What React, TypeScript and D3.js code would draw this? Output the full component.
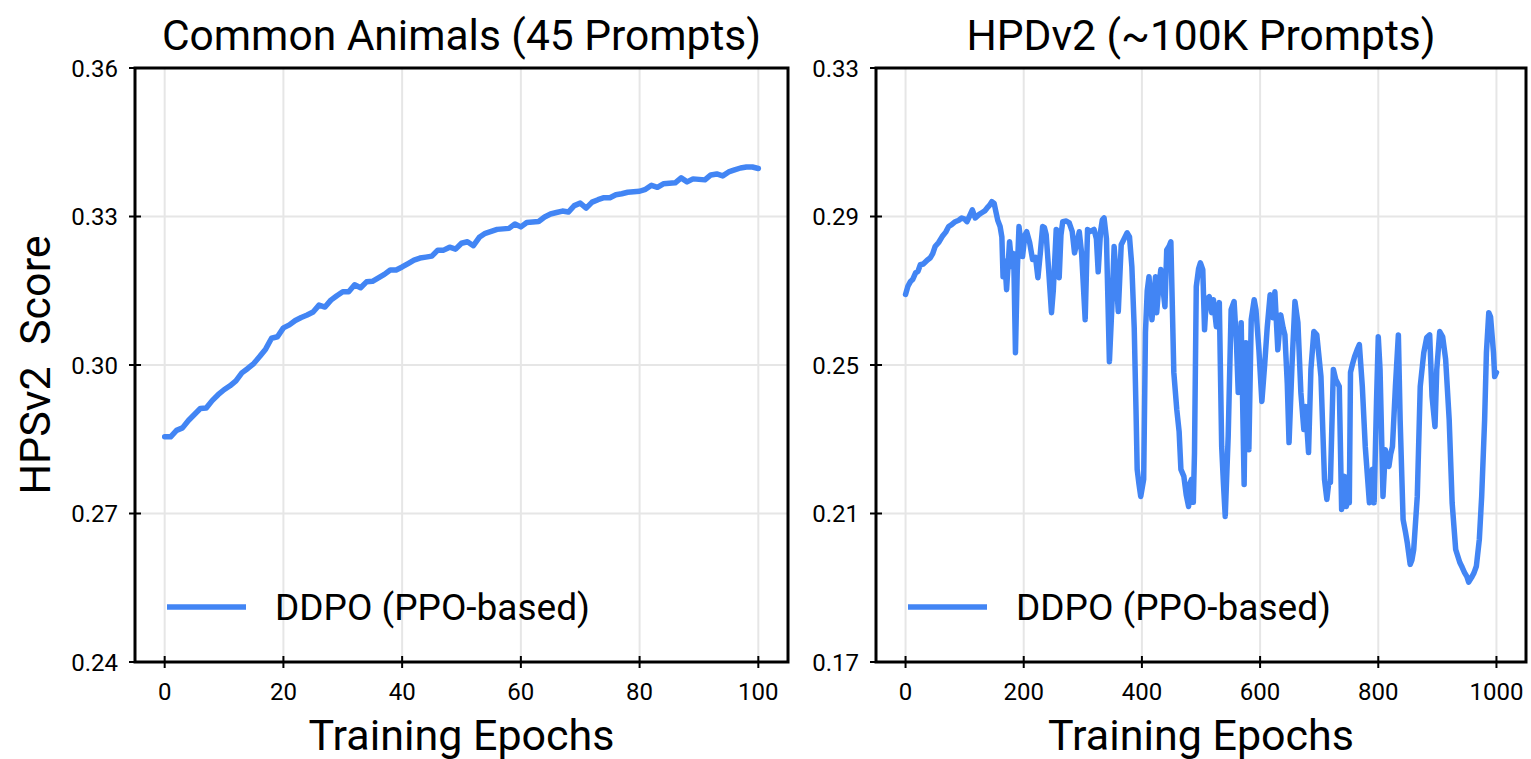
import React from 'react';
import * as d3 from 'd3';

// Common Animals (45 prompts), epochs 0..100
const animalScores = [
  0.2855, 0.2855, 0.2868, 0.2873, 0.2888, 0.29, 0.2912, 0.2913, 0.2928, 0.294,
  0.295, 0.2958, 0.2968, 0.2984, 0.2993, 0.3003, 0.3017, 0.3032, 0.3054, 0.3057,
  0.3075, 0.3081, 0.309, 0.3096, 0.3101, 0.3107, 0.3121, 0.3117, 0.3131, 0.314,
  0.3148, 0.3148, 0.3162, 0.3156, 0.3168, 0.3169, 0.3176, 0.3183, 0.3192, 0.3192,
  0.3198, 0.3205, 0.3212, 0.3216, 0.3218, 0.322, 0.3232, 0.3232, 0.3238, 0.3234,
  0.3246, 0.3249, 0.3241, 0.3258, 0.3266, 0.327, 0.3274, 0.3275, 0.3276, 0.3285,
  0.3279, 0.3288, 0.3289, 0.329, 0.3299, 0.3305, 0.3308, 0.3311, 0.3309, 0.3322,
  0.3327, 0.3317, 0.3329, 0.3334, 0.3338, 0.3338, 0.3344, 0.3346, 0.3349, 0.335,
  0.3351, 0.3355, 0.3363, 0.3359, 0.3366, 0.3367, 0.3368, 0.3378, 0.337, 0.3376,
  0.3375, 0.3374, 0.3384, 0.3386, 0.3382, 0.339, 0.3394, 0.3398, 0.34, 0.34,
  0.3397,
];
const animalEpochs = animalScores.map((_, i) => i);

// HPDv2 (~100K prompts)
const hpdEpochs = [
  0, 4, 8, 12, 17, 21, 25, 30, 37, 42, 46, 50, 56, 62, 68, 73, 78, 84, 90, 95,
  100, 104, 108, 113, 118, 124, 129, 134, 138, 142, 146, 150, 153, 156, 160, 163, 165, 168, 171, 176,
  180, 183, 186, 189, 192, 195, 198, 202, 205, 210, 215, 220, 224, 228, 232, 235, 238, 242, 247, 250,
  255, 258, 260, 263, 266, 272, 277, 282, 286, 290, 294, 298, 304, 308, 313, 319, 323, 326, 330, 333,
  336, 340, 345, 349, 353, 356, 360, 365, 370, 375, 379, 383, 387, 390, 392, 395, 398, 403, 406, 409,
  412, 417, 423, 425, 428, 432, 436, 439, 442, 446, 449, 454, 459, 463, 466, 471, 475, 479, 481, 484,
  487, 489, 492, 496, 499, 503, 506, 509, 514, 518, 521, 526, 531, 535, 538, 541, 546, 551, 556, 560,
  563, 568, 573, 576, 581, 585, 590, 593, 598, 603, 608, 612, 617, 622, 625, 630, 635, 639, 642, 646,
  649, 654, 659, 664, 669, 674, 677, 682, 686, 691, 696, 703, 709, 713, 716, 719, 724, 728, 734, 738,
  743, 746, 749, 751, 753, 756, 760, 764, 768, 773, 778, 785, 790, 793, 797, 800, 803, 808, 812, 815,
  818, 821, 824, 829, 834, 837, 842, 846, 849, 854, 857, 860, 866, 871, 877, 882, 887, 891, 896, 899,
  904, 909, 914, 920, 925, 931, 938, 942, 946, 950, 953, 958, 962, 966, 971, 975, 980, 983, 987, 990,
  995, 997, 1000,
];
const hpdScores = [
  0.269, 0.2712, 0.2724, 0.273, 0.2748, 0.2752, 0.277, 0.2772, 0.2783, 0.2789, 0.28, 0.2819, 0.283, 0.2846, 0.2858, 0.2873, 0.2878, 0.2886, 0.289, 0.2896,
  0.2893, 0.2886, 0.29, 0.2918, 0.2896, 0.2905, 0.291, 0.2915, 0.2923, 0.293, 0.294, 0.2935, 0.2912, 0.289, 0.2873, 0.2845, 0.2738, 0.278, 0.2703, 0.2832,
  0.2765, 0.28, 0.2533, 0.275, 0.2873, 0.283, 0.2792, 0.285, 0.2859, 0.283, 0.2784, 0.279, 0.2735, 0.28, 0.2873, 0.287, 0.2851, 0.276, 0.2641, 0.27,
  0.2865, 0.286, 0.2735, 0.285, 0.2886, 0.2888, 0.2883, 0.286, 0.2802, 0.283, 0.2859, 0.28, 0.2622, 0.2865, 0.286, 0.2865, 0.284, 0.2751, 0.286, 0.2891,
  0.2896, 0.284, 0.2509, 0.265, 0.2819, 0.275, 0.2644, 0.2824, 0.284, 0.2856, 0.2845, 0.2765, 0.26, 0.238, 0.2219, 0.218, 0.2146, 0.2192, 0.2587, 0.27,
  0.2738, 0.2622, 0.2738, 0.2641, 0.27, 0.2757, 0.27, 0.2657, 0.281, 0.282, 0.2832, 0.248, 0.238, 0.232, 0.2219, 0.22, 0.215, 0.2119, 0.218, 0.2192,
  0.213, 0.2264, 0.2711, 0.276, 0.2775, 0.2757, 0.2595, 0.2676, 0.2684, 0.2641, 0.2676, 0.2603, 0.2668, 0.228, 0.218, 0.2092, 0.2307, 0.2649, 0.2671, 0.256,
  0.2426, 0.2614, 0.2178, 0.256, 0.2272, 0.2622, 0.2676, 0.2649, 0.254, 0.2402, 0.2506, 0.26, 0.2689, 0.2627, 0.2697, 0.2541, 0.2635, 0.26, 0.2581, 0.245,
  0.2291, 0.25, 0.2671, 0.2614, 0.2426, 0.2326, 0.2388, 0.2264, 0.2488, 0.259, 0.2581, 0.2469, 0.2192, 0.2138, 0.218, 0.2184, 0.2488, 0.2461, 0.2442, 0.2111,
  0.22, 0.2119, 0.216, 0.2129, 0.248, 0.25, 0.2523, 0.254, 0.2555, 0.2442, 0.228, 0.2129, 0.2219, 0.2129, 0.24, 0.2576, 0.2488, 0.2146, 0.2272, 0.224,
  0.2227, 0.226, 0.228, 0.2442, 0.2581, 0.2353, 0.2084, 0.205, 0.2022, 0.1963, 0.1975, 0.2003, 0.2146, 0.2442, 0.2533, 0.2574, 0.2581, 0.2415, 0.2334, 0.2488,
  0.259, 0.2576, 0.2515, 0.2353, 0.2129, 0.2003, 0.1968, 0.1955, 0.1941, 0.193, 0.1915, 0.1928, 0.194, 0.1958, 0.203, 0.2146, 0.2353, 0.2533, 0.2641, 0.263,
  0.2533, 0.2469, 0.248,
];

const animalXTicks = [0, 20, 40, 60, 80, 100];
const animalYTicks = [0.24, 0.27, 0.3, 0.33, 0.36];
const hpdXTicks = [0, 200, 400, 600, 800, 1000];
const hpdYTicks = [0.17, 0.21, 0.25, 0.29, 0.33];

const lineColor = '#4285f4';
const font = 'Roboto, "DejaVu Sans", sans-serif';

const Panel = ({ left, right, top, bottom, xDomain, yDomain, xTicks, yTicks, xs, ys, title }) => {
  const x = d3.scaleLinear().domain(xDomain).range([left, right]);
  const y = d3.scaleLinear().domain(yDomain).range([bottom, top]);
  const pts = xs.map((d, i) => [d, ys[i]]);
  const line = d3.line().x((d) => x(d[0])).y((d) => y(d[1]));
  const cx = (left + right) / 2;

  return (
    <g>
      {xTicks.map((t) => (
        <line key={'gx' + t} x1={x(t)} x2={x(t)} y1={top} y2={bottom} stroke="#e6e6e6" strokeWidth={2} />
      ))}
      {yTicks.map((t) => (
        <line key={'gy' + t} x1={left} x2={right} y1={y(t)} y2={y(t)} stroke="#e6e6e6" strokeWidth={2} />
      ))}
      <path d={line(pts)} fill="none" stroke={lineColor} strokeWidth={5.5} strokeLinejoin="round" strokeLinecap="round" />
      <rect x={left} y={top} width={right - left} height={bottom - top} fill="none" stroke="#000" strokeWidth={3} />
      {xTicks.map((t) => (
        <g key={'tx' + t}>
          <line x1={x(t)} x2={x(t)} y1={bottom - 6} y2={bottom + 6} stroke="#000" strokeWidth={2} />
          <text x={x(t)} y={bottom + 38} textAnchor="middle" fontSize={24} fontFamily={font}>{t}</text>
        </g>
      ))}
      {yTicks.map((t) => (
        <g key={'ty' + t}>
          <line x1={left - 6} x2={left + 6} y1={y(t)} y2={y(t)} stroke="#000" strokeWidth={2} />
          <text x={left - 17} y={y(t) + 8.5} textAnchor="end" fontSize={24} fontFamily={font}>{d3.format('.2f')(t)}</text>
        </g>
      ))}
      <text x={cx} y={50} textAnchor="middle" fontSize={42.5} fontFamily={font}>{title}</text>
      <text x={cx} y={750} textAnchor="middle" fontSize={43} fontFamily={font}>Training Epochs</text>
      <line x1={left + 32} x2={left + 111} y1={607} y2={607} stroke={lineColor} strokeWidth={5.5} />
      <text x={left + 140} y={620} fontSize={37} fontFamily={font}>DDPO (PPO-based)</text>
    </g>
  );
};

export default function App() {
  return (
    <div style={{ position: 'absolute', left: 0, top: 0 }}>
      <svg width={1531} height={759} style={{ display: 'block', background: '#fff' }}>
        <Panel
          left={135} right={788} top={68} bottom={662}
          xDomain={[-5, 105]} yDomain={[0.24, 0.36]}
          xTicks={animalXTicks} yTicks={animalYTicks}
          xs={animalEpochs} ys={animalScores}
          title="Common Animals (45 Prompts)"
        />
        <Panel
          left={876} right={1526} top={68} bottom={662}
          xDomain={[-50, 1050]} yDomain={[0.17, 0.33]}
          xTicks={hpdXTicks} yTicks={hpdYTicks}
          xs={hpdEpochs} ys={hpdScores}
          title="HPDv2 (~100K Prompts)"
        />
        <text transform="translate(50,365) rotate(-90)" textAnchor="middle" fontSize={43} fontFamily={font} xmlSpace="preserve">HPSv2  Score</text>
      </svg>
    </div>
  );
}
